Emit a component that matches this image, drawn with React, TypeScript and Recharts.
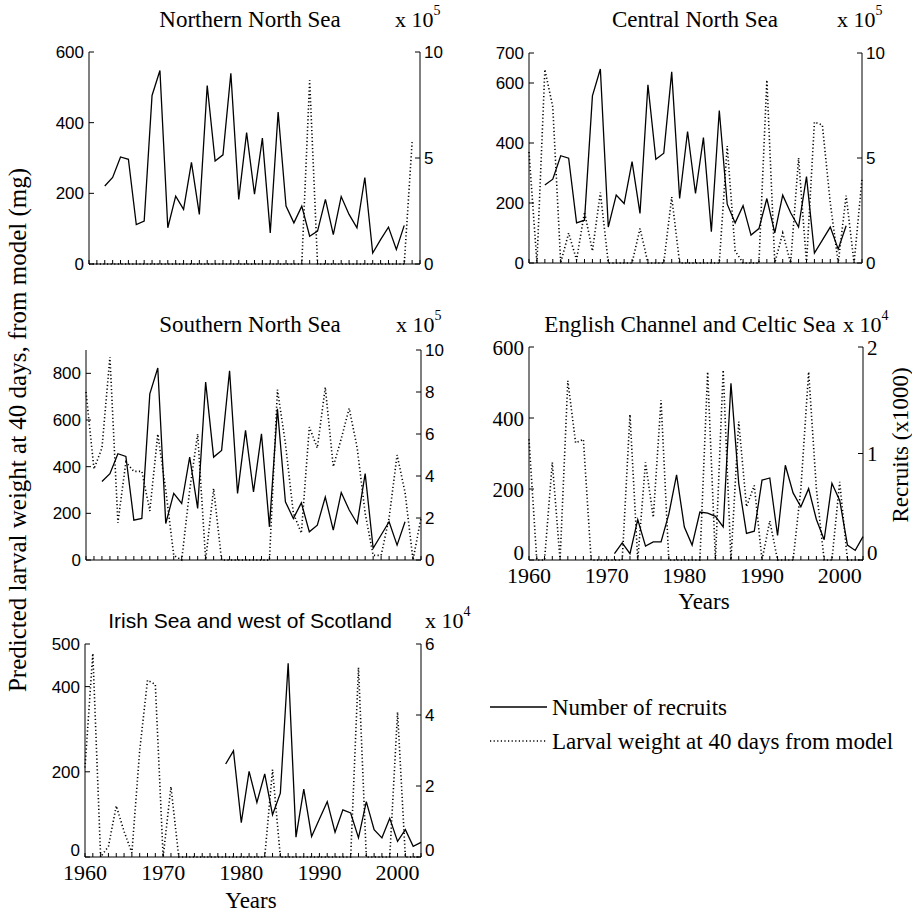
import { LineChart, Line, XAxis, YAxis } from 'recharts';

const SERIF = '"Liberation Serif", "Times New Roman", serif';
const SANS = '"Liberation Sans", Arial, sans-serif';

// Larval weight at 40 days from model (mg) – dotted line, left axis, from 1960
const nnsWeight = [
  0, 0, 0, 0, 0, 0, 0, 0, 0, 0, 0, 0, 0, 0, 0, 0, 0, 0, 0, 0, 0, 0, 0, 0, 0, 0, 0, 0,
  520, 0, 0, 0, 0, 0, 0, 0, 0, 0, 0, 0, 0, 345,
];
const cnsWeight = [
  370, 0, 645, 520, 0, 100, 10, 170, 40, 235, 0, 0, 0, 0, 115, 0, 0, 0, 220, 0, 0, 0,
  0, 0, 0, 390, 40, 0, 0, 0, 610, 0, 100, 0, 350, 0, 470, 460, 200, 0, 225, 0, 280,
];
const snsWeight = [
  720, 390, 480, 870, 160, 420, 380, 380, 210, 540, 300, 20, 0, 300, 540, 0, 306, 0, 0,
  0, 0, 0, 0, 0, 730, 500, 200, 115, 570, 480, 740, 400, 520, 650, 480, 200, 20, 20, 180,
  450, 290, 0, 180,
];
const ecWeight = [
  340, 0, 0, 275, 0, 505, 330, 340, 0, 0, 0, 0, 0, 410, 0, 275, 120, 450, 0, 0, 0, 0, 0,
  530, 0, 535, 0, 390, 150, 210, 0, 110, 0, 0, 0, 200, 530, 200, 0, 0, 220, 0, 0, 0,
];
const iswWeight = [
  210, 478, 0, 25, 120, 60, 10, 250, 415, 405, 0, 165, 0, 0, 0, 0, 0, 0, 0, 0, 0, 0, 0,
  0, 205, 0, 0, 0, 0, 0, 0, 0, 0, 0, 0, 445, 0, 0, 0, 0, 340, 0, 0, 0,
];

// Number of recruits – solid line, right axis (in units of the "x 10^n" label)
const nnsRecruitsStart = 1962;
const nnsRecruits = [
  3.68, 4.08, 5.05, 4.94, 1.86, 2.02, 7.95, 9.13, 1.71, 3.2, 2.58, 4.79, 2.34, 8.42, 4.86,
  5.15, 9.0, 3.05, 6.2, 3.29, 5.94, 1.47, 7.17, 2.73, 1.94, 2.73, 1.31, 1.55, 3.05, 1.39,
  3.18, 2.34, 1.71, 4.08, 0.52, 1.15, 1.74, 0.68, 1.82,
];
const cnsRecruitsStart = 1962;
const cnsRecruits = [
  3.71, 3.99, 5.11, 4.99, 1.91, 2.04, 7.96, 9.24, 1.71, 3.23, 2.83, 4.83, 2.36, 8.49, 4.94,
  5.23, 9.1, 3.07, 6.26, 3.31, 5.97, 1.49, 7.26, 2.8, 1.91, 2.73, 1.33, 1.64, 3.07, 1.43,
  3.23, 2.39, 1.71, 4.11, 0.47, 1.09, 1.71, 0.66, 1.77,
];
const snsRecruitsStart = 1962;
const snsRecruits = [
  3.74, 4.11, 5.06, 4.93, 1.9, 1.98, 7.91, 9.14, 1.74, 3.17, 2.69, 4.9, 2.46, 8.47, 4.9,
  5.22, 9.01, 3.17, 6.17, 3.24, 6.01, 1.58, 7.2, 2.77, 1.98, 2.72, 1.34, 1.66, 3.0, 1.42,
  3.21, 2.38, 1.74, 4.11, 0.56, 1.19, 1.82, 0.71, 1.82,
];
const ecRecruitsStart = 1971;
const ecRecruits = [
  0.06, 0.16, 0.06, 0.38, 0.13, 0.17, 0.17, 0.43, 0.8, 0.31, 0.14, 0.45, 0.44, 0.41, 0.31,
  1.66, 0.72, 0.25, 0.27, 0.75, 0.77, 0.23, 0.89, 0.63, 0.5, 0.67, 0.38, 0.19, 0.72, 0.56,
  0.14, 0.09, 0.22,
];
const iswRecruitsStart = 1978;
const iswRecruits = [
  2.62, 2.99, 0.97, 2.41, 1.54, 2.34, 1.19, 1.8, 5.46, 0.56, 1.91, 0.58, 1.07, 1.56, 0.7,
  1.33, 1.24, 0.54, 1.56, 0.77, 0.54, 1.09, 0.44, 0.77, 0.3, 0.41,
];

type Row = { year: number; w: number | null; r: number | null };

function buildRows(weight: number[], recruits: number[], start: number, lastYear: number) {
  const rows: Row[] = [];
  for (let y = 1960; y <= lastYear; y++) {
    const w = weight[y - 1960];
    const i = y - start;
    rows.push({
      year: y,
      w: w === undefined ? null : w,
      r: i >= 0 && i < recruits.length ? recruits[i] : null,
    });
  }
  return rows;
}

const AXW = 70; // room for each y axis
const MT = 20;
const XH = 60;

type PanelProps = {
  data: Row[];
  left: number;
  right: number;
  top: number;
  bottom: number;
  xMax: number;
  wMax: number;
  wTicks: number[];
  rMax: number;
  rTicks: number[];
  tickFont: string;
  tickSize: number;
  yearLabels?: boolean;
};

function Panel(p: PanelProps) {
  const w = p.right - p.left + 2 * AXW;
  const h = p.bottom - p.top + MT + XH;
  const x0 = AXW;
  const x1 = w - AXW;
  const yB = MT + (p.bottom - p.top);
  const years: number[] = [];
  for (let y = 1960; y <= p.xMax; y++) years.push(y);
  // lift the zero labels when the year labels sit right below them
  const zeroShift = (v: number) => (p.yearLabels && v === 0 ? -Math.round(p.tickSize * 0.4) : 0);

  const xTick = (props: any) => {
    const { x, payload } = props;
    return (
      <g>
        <line x1={x} x2={x} y1={yB} y2={yB - 4} stroke='#000' strokeWidth={1} />
        {p.yearLabels && payload.value % 10 === 0 ? (
          <text x={x} y={yB + 23} textAnchor='middle' fontFamily={SERIF} fontSize={22} fill='#000'>
            {payload.value}
          </text>
        ) : null}
      </g>
    );
  };
  const leftTick = (props: any) => {
    const { y, payload } = props;
    return (
      <g>
        <line x1={x0} x2={x0 + 5} y1={y} y2={y} stroke='#000' />
        <text
          x={x0 - 5}
          y={y + zeroShift(payload.value)}
          dy='0.36em'
          textAnchor='end'
          fontFamily={p.tickFont}
          fontSize={p.tickSize}
          fill='#000'
        >
          {payload.value}
        </text>
      </g>
    );
  };
  const rightTick = (props: any) => {
    const { y, payload } = props;
    return (
      <g>
        <line x1={x1} x2={x1 - 5} y1={y} y2={y} stroke='#000' />
        <text
          x={x1 + 4}
          y={y + zeroShift(payload.value)}
          dy='0.36em'
          textAnchor='start'
          fontFamily={p.tickFont}
          fontSize={p.tickSize}
          fill='#000'
        >
          {payload.value}
        </text>
      </g>
    );
  };

  return (
    <div style={{ position: 'absolute', left: p.left - AXW, top: p.top - MT }}>
      <LineChart width={w} height={h} data={p.data} margin={{ top: MT, right: 0, bottom: 0, left: 0 }}>
        <XAxis
          type='number'
          dataKey='year'
          domain={[1960, p.xMax]}
          ticks={years}
          interval={0}
          height={XH}
          tickLine={false}
          axisLine={{ stroke: '#000' }}
          tick={xTick}
        />
        <YAxis
          yAxisId='w'
          type='number'
          domain={[0, p.wMax]}
          ticks={p.wTicks}
          interval={0}
          width={AXW}
          tickLine={false}
          axisLine={{ stroke: '#000' }}
          tick={leftTick}
        />
        <YAxis
          yAxisId='r'
          orientation='right'
          type='number'
          domain={[0, p.rMax]}
          ticks={p.rTicks}
          interval={0}
          width={AXW}
          tickLine={false}
          axisLine={{ stroke: '#000' }}
          tick={rightTick}
        />
        <Line
          yAxisId='w'
          dataKey='w'
          stroke='#000'
          strokeWidth={1.6}
          strokeDasharray='1.2 2.4'
          dot={false}
          isAnimationActive={false}
        />
        <Line
          yAxisId='r'
          dataKey='r'
          stroke='#000'
          strokeWidth={1.3}
          dot={false}
          isAnimationActive={false}
        />
      </LineChart>
    </div>
  );
}

function Power({ x, y, exp, font }: { x: number; y: number; exp: string; font: string }) {
  return (
    <text x={x} y={y} fontFamily={font} fontSize={22} fill='#000'>
      x 10
      <tspan dy={-12} fontSize={14}>
        {exp}
      </tspan>
    </text>
  );
}

export default function App() {
  return (
    <div style={{ position: 'fixed', left: 0, top: 0, width: 912, height: 912, background: '#fff' }}>
      <Panel
        data={buildRows(nnsWeight, nnsRecruits, nnsRecruitsStart, 2002)}
        left={89} right={420} top={52} bottom={264} xMax={2002}
        wMax={600} wTicks={[0, 200, 400, 600]} rMax={10} rTicks={[0, 5, 10]}
        tickFont={SANS} tickSize={17}
      />
      <Panel
        data={buildRows(cnsWeight, cnsRecruits, cnsRecruitsStart, 2002)}
        left={529} right={862} top={53} bottom={263} xMax={2002}
        wMax={700} wTicks={[0, 200, 400, 600, 700]} rMax={10} rTicks={[0, 5, 10]}
        tickFont={SANS} tickSize={17}
      />
      <Panel
        data={buildRows(snsWeight, snsRecruits, snsRecruitsStart, 2002)}
        left={86} right={421} top={350} bottom={560} xMax={2002}
        wMax={900} wTicks={[0, 200, 400, 600, 800]} rMax={10} rTicks={[0, 2, 4, 6, 8, 10]}
        tickFont={SANS} tickSize={17}
      />
      <Panel
        data={buildRows(ecWeight, ecRecruits, ecRecruitsStart, 2003)}
        left={529} right={863} top={347} bottom={560} xMax={2003}
        wMax={600} wTicks={[0, 200, 400, 600]} rMax={2} rTicks={[0, 1, 2]}
        tickFont={SERIF} tickSize={21} yearLabels
      />
      <Panel
        data={buildRows(iswWeight, iswRecruits, iswRecruitsStart, 2003)}
        left={85} right={421} top={644} bottom={857} xMax={2003}
        wMax={500} wTicks={[0, 200, 400, 500]} rMax={6} rTicks={[0, 2, 4, 6]}
        tickFont={SANS} tickSize={17} yearLabels
      />
      <svg width={912} height={912} style={{ position: 'absolute', left: 0, top: 0, pointerEvents: 'none' }}>
        <g fontFamily={SERIF} fontSize={23} fill='#000'>
          <text x={250} y={27} textAnchor='middle'>Northern North Sea</text>
          <text x={695} y={27} textAnchor='middle'>Central North Sea</text>
          <text x={250} y={332} textAnchor='middle'>Southern North Sea</text>
          <text x={690} y={332} textAnchor='middle'>English Channel and Celtic Sea</text>
          <text x={704} y={609} textAnchor='middle'>Years</text>
          <text x={251} y={908} textAnchor='middle'>Years</text>
          <text transform='translate(26,430) rotate(-90)' textAnchor='middle' fontSize={25}>
            Predicted larval weight at 40 days, from model (mg)
          </text>
          <text transform='translate(908,445) rotate(-90)' textAnchor='middle'>
            Recruits (x1000)
          </text>
          <text x={552} y={715}>Number of recruits</text>
          <text x={552} y={749}>Larval weight at 40 days from model</text>
        </g>
        <text x={250} y={628} textAnchor='middle' fontFamily={SANS} fontSize={21} fill='#000'>
          Irish Sea and west of Scotland
        </text>
        <Power x={395} y={27} exp='5' font={SERIF} />
        <Power x={837} y={27} exp='5' font={SERIF} />
        <Power x={396} y={332} exp='5' font={SERIF} />
        <Power x={843} y={332} exp='4' font={SERIF} />
        <Power x={425} y={628} exp='4' font={SERIF} />
        <line x1={490} x2={547} y1={707} y2={707} stroke='#000' strokeWidth={1.3} />
        <line x1={490} x2={547} y1={741} y2={741} stroke='#000' strokeWidth={1.6} strokeDasharray='1.2 2.4' />
      </svg>
    </div>
  );
}
